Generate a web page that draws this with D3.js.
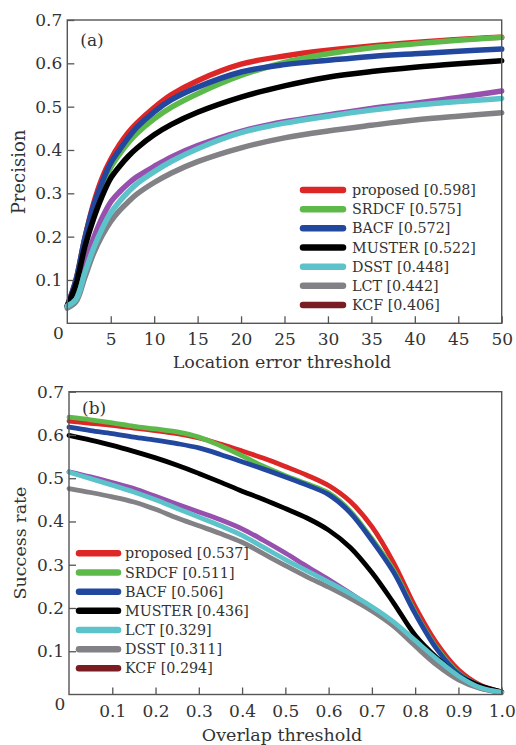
<!DOCTYPE html>
<html>
<head>
<meta charset="utf-8">
<script src="https://cdn.jsdelivr.net/npm/d3@7"></script>
<style>
  html, body { margin: 0; padding: 0; background: #fff; }
  svg { display: block; }
  text { font-family: "DejaVu Serif", "Liberation Serif", serif; fill: #333; }
</style>
</head>
<body>
<svg id="chart" width="516" height="745"></svg>
<script>
// ---------------- Data: panel (a) precision plot ----------------
const thresholdsA = [0, 1, 2, 3, 4, 5, 6, 7, 8, 10, 12, 15, 20, 25, 30, 35, 40, 45, 50];
const proposedA = [0.040, 0.100, 0.195, 0.275, 0.335, 0.378, 0.412, 0.440, 0.462, 0.498, 0.528, 0.560, 0.598, 0.617, 0.630, 0.640, 0.648, 0.655, 0.660];
const srdcfA    = [0.040, 0.090, 0.185, 0.260, 0.315, 0.360, 0.390, 0.416, 0.438, 0.472, 0.499, 0.530, 0.572, 0.602, 0.622, 0.636, 0.645, 0.653, 0.660];
const bacfA     = [0.040, 0.100, 0.195, 0.270, 0.325, 0.370, 0.400, 0.428, 0.452, 0.488, 0.516, 0.545, 0.580, 0.597, 0.607, 0.616, 0.622, 0.628, 0.633];
const musterA   = [0.040, 0.090, 0.175, 0.240, 0.293, 0.335, 0.362, 0.385, 0.404, 0.435, 0.459, 0.487, 0.522, 0.548, 0.568, 0.581, 0.591, 0.599, 0.606];
const dsstA     = [0.040, 0.055, 0.115, 0.172, 0.218, 0.255, 0.281, 0.303, 0.322, 0.350, 0.374, 0.403, 0.440, 0.462, 0.478, 0.492, 0.503, 0.512, 0.519];
const lctA      = [0.035, 0.050, 0.105, 0.160, 0.202, 0.235, 0.260, 0.280, 0.298, 0.325, 0.347, 0.373, 0.405, 0.428, 0.444, 0.457, 0.469, 0.478, 0.486];
const kcfA      = [0.040, 0.060, 0.135, 0.195, 0.243, 0.280, 0.303, 0.322, 0.338, 0.362, 0.384, 0.410, 0.443, 0.465, 0.481, 0.496, 0.508, 0.521, 0.536];

const namesA  = ["proposed", "SRDCF", "BACF", "MUSTER", "DSST", "LCT", "KCF"];
const scoresA = ["0.598", "0.575", "0.572", "0.522", "0.448", "0.442", "0.406"];

// ---------------- Data: panel (b) success plot ----------------
const thresholdsB = [0, 0.05, 0.1, 0.15, 0.2, 0.25, 0.3, 0.35, 0.4, 0.45, 0.5, 0.55, 0.6, 0.65, 0.7, 0.75, 0.8, 0.85, 0.9, 0.95, 1.0];
const proposedB = [0.632, 0.627, 0.622, 0.616, 0.610, 0.603, 0.593, 0.579, 0.563, 0.546, 0.527, 0.507, 0.483, 0.446, 0.388, 0.305, 0.203, 0.118, 0.057, 0.022, 0.006];
const srdcfB    = [0.641, 0.635, 0.628, 0.620, 0.614, 0.607, 0.595, 0.575, 0.552, 0.527, 0.506, 0.487, 0.466, 0.424, 0.360, 0.288, 0.190, 0.108, 0.050, 0.020, 0.006];
const bacfB     = [0.618, 0.610, 0.603, 0.595, 0.588, 0.580, 0.570, 0.555, 0.538, 0.521, 0.503, 0.484, 0.462, 0.420, 0.356, 0.283, 0.187, 0.105, 0.048, 0.020, 0.006];
const musterB   = [0.599, 0.588, 0.576, 0.562, 0.547, 0.530, 0.511, 0.491, 0.470, 0.451, 0.430, 0.408, 0.380, 0.340, 0.282, 0.212, 0.137, 0.085, 0.043, 0.020, 0.006];
const lctB      = [0.514, 0.499, 0.484, 0.468, 0.450, 0.430, 0.410, 0.390, 0.368, 0.340, 0.312, 0.286, 0.260, 0.233, 0.203, 0.168, 0.125, 0.082, 0.043, 0.016, 0.005];
const dsstB     = [0.476, 0.467, 0.457, 0.445, 0.428, 0.408, 0.390, 0.372, 0.352, 0.325, 0.298, 0.272, 0.248, 0.222, 0.193, 0.158, 0.112, 0.068, 0.034, 0.014, 0.005];
const kcfB      = [0.515, 0.503, 0.490, 0.476, 0.458, 0.440, 0.422, 0.404, 0.383, 0.356, 0.327, 0.296, 0.266, 0.234, 0.200, 0.163, 0.118, 0.078, 0.040, 0.015, 0.005];

const namesB  = ["proposed", "SRDCF", "BACF", "MUSTER", "LCT", "DSST", "KCF"];
const scoresB = ["0.537", "0.511", "0.506", "0.436", "0.329", "0.311", "0.294"];

// ---------------- Tick labels ----------------
const ticksXA = [5, 10, 15, 20, 25, 30, 35, 40, 45, 50];
const ticksXB = [0.1, 0.2, 0.3, 0.4, 0.5, 0.6, 0.7, 0.8, 0.9, 1.0];
const ticksY  = [0.1, 0.2, 0.3, 0.4, 0.5, 0.6, 0.7];

// ---------------- Styles (by legend position) ----------------
const lineColors   = ["#dd2626", "#5dba4a", "#22479e", "#000000", "#5bc3c9", "#818186", "#9750ad"];
const legendColors = ["#dd2626", "#5dba4a", "#22479e", "#000000", "#5bc3c9", "#818186", "#7a1c22"];

const svg = d3.select("#chart");
const frameColor = "#555";

function panel(opts) {
  const g = svg.append("g");
  const x = d3.scaleLinear().domain(opts.xDomain).range([opts.left, opts.right]);
  const y = d3.scaleLinear().domain([0, 0.7]).range([opts.bottom, opts.top]);

  const line = d3.line().x(d => x(d[0])).y(d => y(d[1])).curve(d3.curveCatmullRom.alpha(0.5));
  opts.drawOrder.forEach(idx => {
    const vals = opts.series[idx];
    g.append("path")
      .datum(opts.xs.map((t, i) => [t, vals[i]]))
      .attr("d", line)
      .attr("fill", "none")
      .attr("stroke", lineColors[idx])
      .attr("stroke-width", opts.lw)
      .attr("stroke-linejoin", "round")
      .attr("stroke-linecap", "round");
  });

  g.append("rect")
    .attr("x", opts.left).attr("y", opts.top)
    .attr("width", opts.right - opts.left).attr("height", opts.bottom - opts.top)
    .attr("fill", "none").attr("stroke", frameColor).attr("stroke-width", 1.4);

  const ax = g.append("g").attr("transform", `translate(0,${opts.bottom})`)
    .call(d3.axisBottom(x).tickValues(opts.ticksX).tickFormat(opts.fmtX)
      .tickSizeInner(-7).tickSizeOuter(0).tickPadding(10));
  const ay = g.append("g").attr("transform", `translate(${opts.left},0)`)
    .call(d3.axisLeft(y).tickValues(ticksY).tickFormat(d3.format(".1f"))
      .tickSizeInner(-7).tickSizeOuter(0).tickPadding(5));
  [ax, ay].forEach(a => {
    a.select(".domain").remove();
    a.selectAll("line").attr("stroke", frameColor).attr("stroke-width", 1.3);
    a.selectAll("text").attr("font-family", "DejaVu Serif, serif").attr("font-size", 17).attr("fill", "#333");
  });

  g.append("text").attr("x", opts.left - 9).attr("y", opts.bottom + 10)
    .attr("text-anchor", "middle").attr("dy", "0.35em").attr("font-size", 17).text("0");

  g.append("text").attr("x", opts.left + 13).attr("y", opts.tagY)
    .attr("font-size", 17).text(opts.tag);

  g.append("text").attr("x", 282).attr("y", opts.xTitleY)
    .attr("text-anchor", "middle").attr("font-size", 17.5).text(opts.xTitle);
  g.append("text")
    .attr("transform", `translate(${opts.yTitleX},${opts.yTitleC}) rotate(-90)`)
    .attr("text-anchor", "middle").attr("dy", "0.35em").attr("font-size", opts.yTitleSize).text(opts.yTitle);

  const lg = g.append("g");
  opts.names.forEach((name, i) => {
    const cy = opts.legY + i * opts.legStep;
    lg.append("line").attr("x1", opts.legX1).attr("x2", opts.legX2)
      .attr("y1", cy).attr("y2", cy)
      .attr("stroke", legendColors[i]).attr("stroke-width", 6.5).attr("stroke-linecap", "round");
    lg.append("text").attr("x", opts.legText).attr("y", cy).attr("dy", "0.36em")
      .attr("font-size", 14.3).text(`${name} [${opts.scores[i]}]`);
  });
}

panel({
  xDomain: [0, 50], left: 67.3, right: 501.7, top: 20, bottom: 323.3,
  xs: thresholdsA,
  series: [proposedA, srdcfA, bacfA, musterA, dsstA, lctA, kcfA],
  drawOrder: [6, 0, 1, 2, 3, 5, 4],
  lw: 5.5,
  ticksX: ticksXA, fmtX: d3.format("d"),
  tag: "(a)", tagY: 46,
  xTitle: "Location error threshold", xTitleY: 368,
  yTitle: "Precision", yTitleX: 19, yTitleC: 172, yTitleSize: 18,
  names: namesA, scores: scoresA,
  legY: 190, legStep: 19.17, legX1: 303, legX2: 343, legText: 352
});

panel({
  xDomain: [0, 1], left: 69, right: 501.7, top: 391.7, bottom: 694.5,
  xs: thresholdsB,
  series: [proposedB, srdcfB, bacfB, musterB, lctB, dsstB, kcfB],
  drawOrder: [0, 1, 2, 3, 6, 5, 4],
  lw: 4.8,
  ticksX: ticksXB, fmtX: d3.format(".1f"),
  tag: "(b)", tagY: 414,
  xTitle: "Overlap threshold", xTitleY: 741,
  yTitle: "Success rate", yTitleX: 20, yTitleC: 543, yTitleSize: 17.5,
  names: namesB, scores: scoresB,
  legY: 553.3, legStep: 19.17, legX1: 79, legX2: 118, legText: 125
});
</script>
</body>
</html>
